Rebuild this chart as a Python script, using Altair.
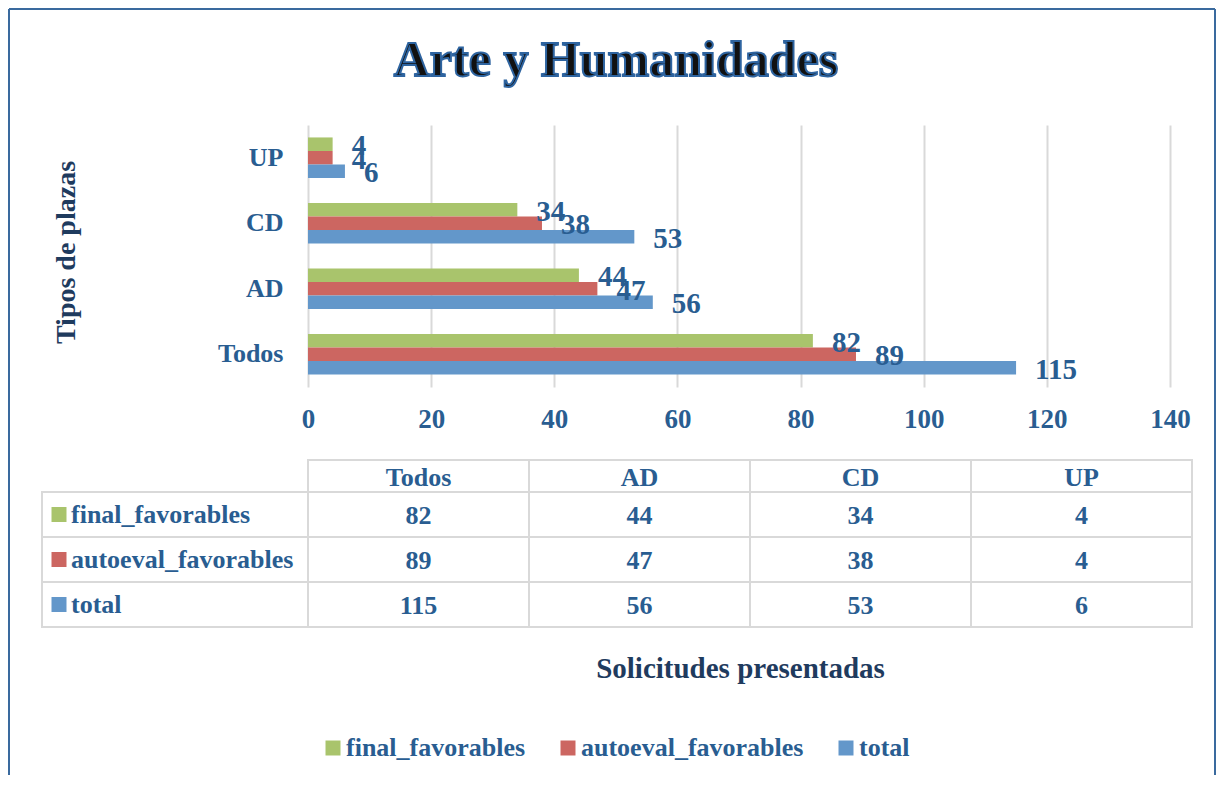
import altair as alt
import pandas as pd

TITLE = "Arte y Humanidades"
categories = ["Todos", "AD", "CD", "UP"]
series = ["final_favorables", "autoeval_favorables", "total"]
final_favorables = [82, 44, 34, 4]
autoeval_favorables = [89, 47, 38, 4]
total = [115, 56, 53, 6]
x_ticks = [0, 20, 40, 60, 80, 100, 120, 140]
y_title = "Tipos de plazas"
x_title = "Solicitudes presentadas"
colors = ["#A9C46C", "#CC6661", "#6397CA"]

rows = []
for s, vals in zip(series, [final_favorables, autoeval_favorables, total]):
    for c, v in zip(categories, vals):
        rows.append({"cat": c, "series": s, "value": v})
df = pd.DataFrame(rows)
df_cat = pd.DataFrame({"cat": categories})
df_series = pd.DataFrame({"series": series})

FONT = "Liberation Serif"
TXT = "#295D91"
DARK = "#1F3B5E"
GRID = "#D9D9D9"
FRAME = "#3A6A9E"

W, H = 862, 262

legend = alt.Legend(
    title=None, orient="none", legendX=12, legendY=610, direction="horizontal",
    columns=3, symbolType="square", symbolSize=225, symbolStrokeWidth=0,
    labelFont=FONT, labelFontSize=26, labelFontWeight="bold", labelColor=TXT,
    labelOffset=0, labelLimit=400, columnPadding=29, padding=0,
)
color_enc = alt.Color("series:N", sort=series,
                      scale=alt.Scale(domain=series, range=colors), legend=legend)

y_enc = alt.Y(
    "cat:N", sort=categories[::-1],
    scale=alt.Scale(paddingInner=0.38, paddingOuter=0.19),
    axis=alt.Axis(
        title=y_title, labelFont=FONT, labelFontSize=26, labelFontWeight="bold",
        labelColor=TXT, labelPadding=25, domain=False, ticks=False, grid=False,
        titleFont=FONT, titleFontSize=28, titleFontWeight="bold", titleColor=DARK,
        titleAngle=270, titleX=-242, titleY=127, titleBaseline="middle",
        titleAlign="center",
    ),
)
x_enc = alt.X(
    "value:Q", scale=alt.Scale(domain=[0, 140], nice=False),
    axis=alt.Axis(
        values=x_ticks, title=x_title, grid=True, gridColor=GRID, gridWidth=2,
        domain=False, ticks=False, labelFont=FONT, labelFontSize=27,
        labelFontWeight="bold", labelColor=TXT, labelPadding=19, labelFlush=False,
        titleFont=FONT, titleFontSize=29, titleFontWeight="bold", titleColor=DARK,
        titleX=432, titleY=281, titleBaseline="middle", titleAlign="center",
    ),
)
yoff = alt.YOffset("series:N", sort=series, scale=alt.Scale(paddingInner=0, paddingOuter=0))

bars = alt.Chart(df).mark_bar().encode(x=x_enc, y=y_enc, yOffset=yoff, color=color_enc)
labels = alt.Chart(df).mark_text(
    align="left", baseline="middle", dx=19, dy=2, font=FONT, fontSize=29,
    fontWeight="bold", color=TXT,
).encode(x=x_enc, y=y_enc, yOffset=yoff, text="value:Q")

title_mark = alt.Chart(pd.DataFrame({"t": [TITLE]})).mark_text(
    font=FONT, fontSize=50, fontWeight="bold", fill="#111111", stroke="#2E64A0",
    strokeWidth=2, align="center", baseline="middle",
).encode(text="t:N", x=alt.value(308), y=alt.value(-64))

one = pd.DataFrame({"a": [0]})
frame_left = alt.Chart(one).mark_rule(color=FRAME, strokeWidth=2).encode(
    x=alt.value(-299), y=alt.value(-116), y2=alt.value(650))
frame_right = alt.Chart(one).mark_rule(color=FRAME, strokeWidth=2).encode(
    x=alt.value(907), y=alt.value(-116), y2=alt.value(650))
frame_top = alt.Chart(one).mark_rule(color=FRAME, strokeWidth=2).encode(
    x=alt.value(-299), x2=alt.value(907), y=alt.value(-116))

top = alt.layer(frame_left, frame_right, frame_top, title_mark, bars, labels).properties(
    width=W, height=H)

# data table
tx = alt.X("cat:N", sort=categories, scale=alt.Scale(paddingInner=0, paddingOuter=0), axis=None)
ty = alt.Y("series:N", sort=series, scale=alt.Scale(paddingInner=0, paddingOuter=0), axis=None)

cells = alt.Chart(df).mark_rect(fill="white", stroke=GRID, strokeWidth=2).encode(x=tx, y=ty)
cell_text = alt.Chart(df).mark_text(
    font=FONT, fontSize=26, fontWeight="bold", color=TXT, baseline="middle", dy=1,
).encode(x=tx, y=ty, text="value:Q")
head_cells = alt.Chart(df_cat).mark_rect(fill="white", stroke=GRID, strokeWidth=2).encode(
    x=tx, y=alt.value(-32), y2=alt.value(0))
head_text = alt.Chart(df_cat).mark_text(
    font=FONT, fontSize=26, fontWeight="bold", color=TXT, baseline="middle",
).encode(x=tx, y=alt.value(-14), text="cat:N")
lab_cells = alt.Chart(df_series).mark_rect(fill="white", stroke=GRID, strokeWidth=2).encode(
    x=alt.value(-266), x2=alt.value(0), y=ty)
lab_text = alt.Chart(df_series).mark_text(
    font=FONT, fontSize=26, fontWeight="bold", color=TXT, align="left", baseline="middle",
).encode(x=alt.value(-237), y=ty, text="series:N")
lab_sym = alt.Chart(df_series).mark_square(size=225, opacity=1).encode(
    x=alt.value(-249), y=ty, color=color_enc)

table = alt.layer(lab_cells, head_cells, cells, head_text, cell_text, lab_text, lab_sym).properties(
    width=884, height=135)

chart = alt.vconcat(top, table, spacing=105, bounds="flush").properties(
    padding=0
).configure(font=FONT).configure_view(stroke="transparent", strokeWidth=0)

chart.save("out.html", embed_options={"renderer": "svg", "actions": False})
